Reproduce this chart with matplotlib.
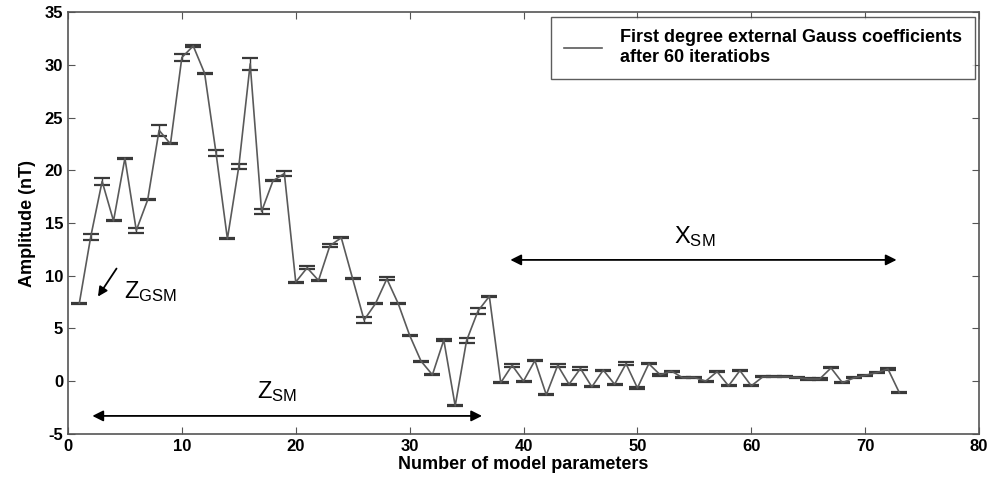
import matplotlib
matplotlib.use("Agg")
import matplotlib.pyplot as plt
from matplotlib.lines import Line2D
import numpy as np

# model parameter index and amplitudes (nT)
params = list(range(1, 74))
amplitude = [7.4, 13.7, 18.95, 15.2, 21.15, 14.3, 17.2, 23.8, 22.5, 30.7,
             31.8, 29.2, 21.65, 13.5, 20.35, 30.1, 16.1, 19.0, 19.7, 9.4,
             10.75, 9.55, 12.85, 13.6, 9.7, 5.8, 7.35, 9.7, 7.35, 4.35,
             1.9, 0.6, 3.9, -2.35, 3.85, 6.65, 8.05, -0.15, 1.5, 0.0,
             1.95, -1.3, 1.5, -0.3, 1.2, -0.55, 1.05, -0.3, 1.65, -0.65,
             1.65, 0.6, 0.95, 0.3, 0.35, 0.0, 0.9, -0.45, 1.0, -0.45,
             0.4, 0.4, 0.4, 0.35, 0.2, 0.2, 1.25, -0.15, 0.3, 0.55,
             0.8, 1.15, -1.1]
error = [0.05, 0.3, 0.35, 0.05, 0.05, 0.2, 0.05, 0.5, 0.05, 0.3,
         0.1, 0.05, 0.25, 0.05, 0.25, 0.6, 0.2, 0.05, 0.2, 0.05,
         0.15, 0.05, 0.15, 0.05, 0.05, 0.3, 0.05, 0.15, 0.05, 0.05,
         0.05, 0.05, 0.05, 0.05, 0.25, 0.25, 0.05, 0.05, 0.15, 0.05,
         0.05, 0.05, 0.12, 0.05, 0.15, 0.05, 0.05, 0.05, 0.12, 0.05,
         0.05, 0.12, 0.05, 0.05, 0.05, 0.05, 0.05, 0.05, 0.05, 0.05,
         0.05, 0.05, 0.05, 0.05, 0.05, 0.05, 0.05, 0.05, 0.05, 0.05,
         0.05, 0.05, 0.05]

plt.rcParams['font.family'] = ['Liberation Sans Narrow', 'Liberation Sans', 'DejaVu Sans']
plt.rcParams['mathtext.default'] = 'regular'
plt.rcParams['axes.unicode_minus'] = False

fig = plt.figure(figsize=(9.95, 4.88), dpi=100)
ax = fig.add_axes([0.0683, 0.111, 0.9157, 0.864])

ax.errorbar(params, amplitude, yerr=error, color='#5a5a5a', lw=1.2,
            ecolor='#3a3a3a', elinewidth=1.0, capsize=6, capthick=1.6)

ax.set_xlim(0, 80)
ax.set_ylim(-5, 35)
ax.set_xticks(range(0, 81, 10))
ax.set_yticks(range(-5, 36, 5))
ax.tick_params(direction='in', length=5, labelsize=12, color='#555555',
               top=True, right=True)
for lab in ax.get_xticklabels() + ax.get_yticklabels():
    lab.set_fontweight('bold')
for s in ax.spines.values():
    s.set_color('#555555')
    s.set_linewidth(1.2)

ax.set_xlabel('Number of model parameters', fontsize=13, fontweight='bold', labelpad=2)
ax.set_ylabel('Amplitude (nT)', fontsize=13, fontweight='bold', labelpad=6)

handle = Line2D([], [], color='#5a5a5a', lw=1.2)
leg = ax.legend([handle], ['First degree external Gauss coefficients\nafter 60 iteratiobs'],
                loc='upper right', frameon=True, fancybox=False,
                edgecolor='#333333', handlelength=2.1, handletextpad=1.0,
                borderpad=0.7, borderaxespad=0.25,
                prop={'weight': 'bold', 'size': 13, 'family': 'Liberation Sans'})
leg.get_frame().set_linewidth(1.0)

# annotations
arr = dict(arrowstyle='<|-|>', color='black', lw=1.3, mutation_scale=16)
ax.annotate('', xy=(1.9, -3.3), xytext=(36.6, -3.3), arrowprops=arr)
ax.annotate('', xy=(38.6, 11.5), xytext=(73.0, 11.5), arrowprops=arr)
ax.annotate('', xy=(2.5, 7.8), xytext=(4.4, 10.9),
            arrowprops=dict(arrowstyle='-|>', color='black', lw=1.3, mutation_scale=14))
ax.text(18.4, -1.0, r'$Z_{SM}$', fontsize=17, ha='center', va='center',
        family='Liberation Sans')
ax.text(55.0, 13.7, r'$X_{SM}$', fontsize=17, ha='center', va='center',
        family='Liberation Sans')
ax.text(4.9, 8.5, r'$Z_{GSM}$', fontsize=17, ha='left', va='center',
        family='Liberation Sans')

fig.savefig('out.png', dpi=100)
